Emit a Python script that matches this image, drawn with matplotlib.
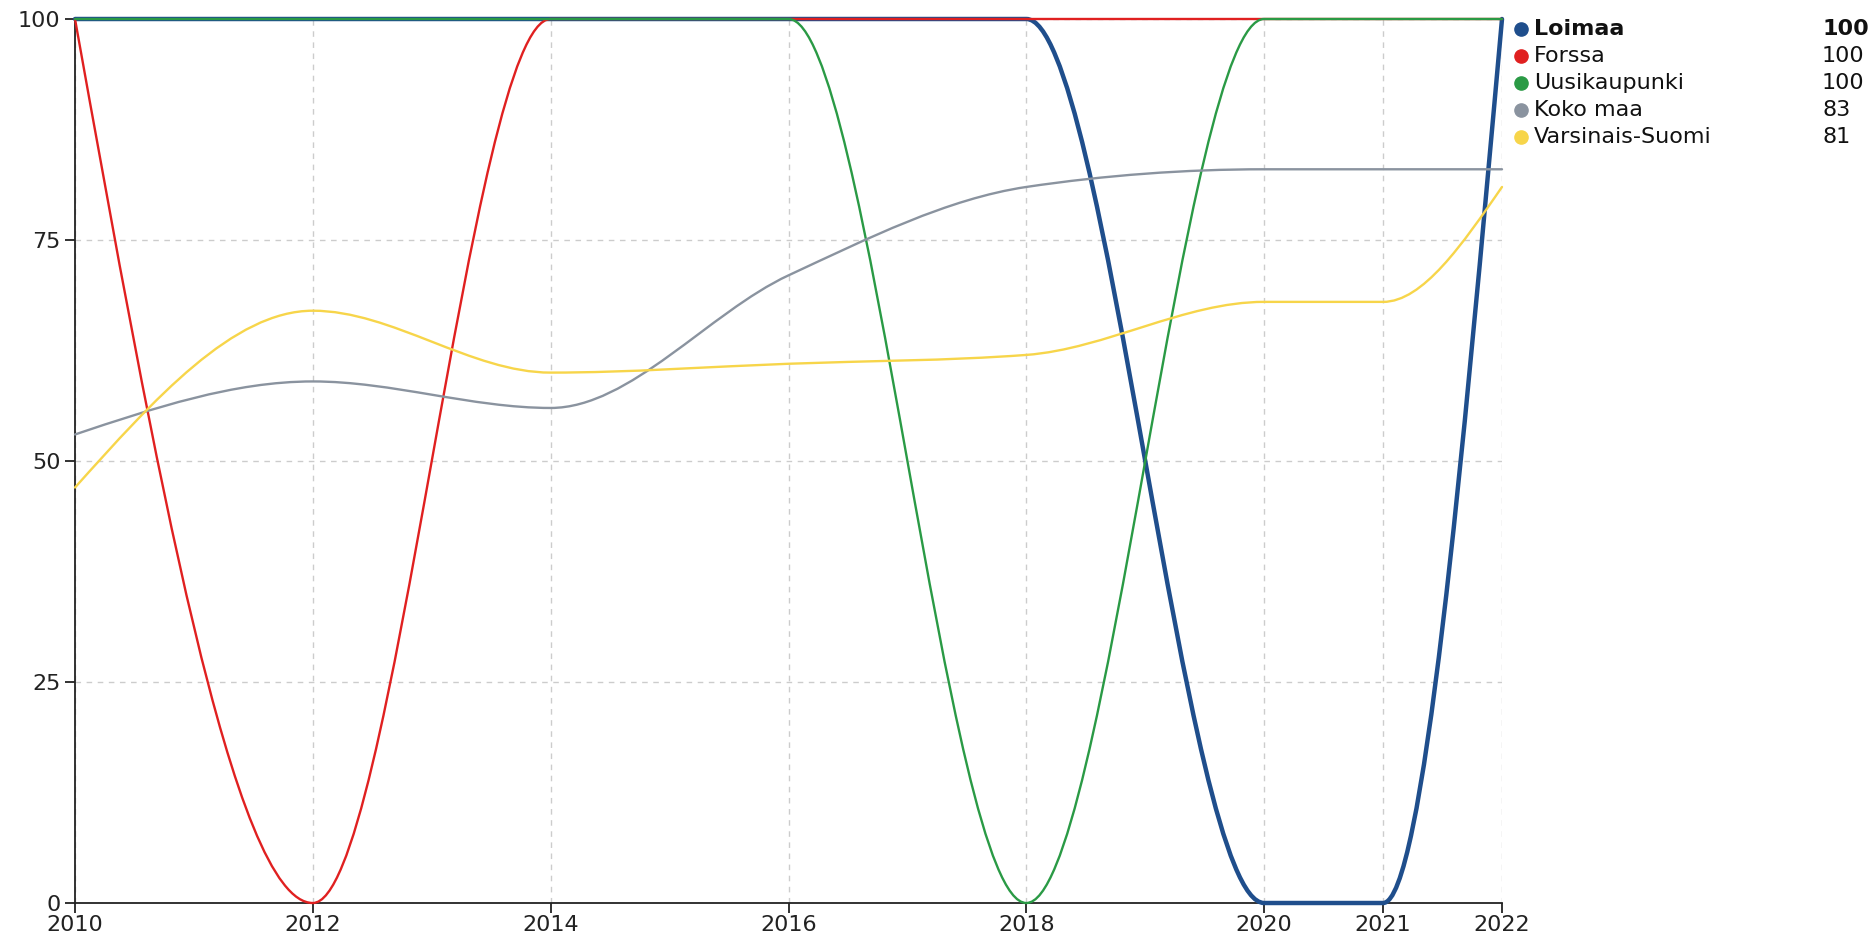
import numpy as np
import matplotlib
matplotlib.use("Agg")
import matplotlib.pyplot as plt
from matplotlib.path import Path
from matplotlib.patches import PathPatch

plt.rcParams['font.family'] = ['DejaVu Sans']

years = [2010, 2012, 2014, 2016, 2018, 2020, 2021, 2022]
series_names = ["Loimaa", "Forssa", "Uusikaupunki", "Koko maa", "Varsinais-Suomi"]
loimaa = [100, 100, 100, 100, 100, 0, 0, 100]
forssa = [100, 0, 100, 100, 100, 100, 100, 100]
uusikaupunki = [100, 100, 100, 100, 0, 100, 100, 100]
koko_maa = [53, 59, 56, 71, 81, 83, 83, 83]
varsinais_suomi = [47, 67, 60, 61, 62, 68, 68, 81]
series_values = [loimaa, forssa, uusikaupunki, koko_maa, varsinais_suomi]
colors = ["#1f4e8c", "#e02020", "#2a9a45", "#8a939f", "#f7d54a"]
widths = [3.2, 1.7, 1.7, 1.7, 1.7]
y_ticks = [0, 25, 50, 75, 100]


def monotone_path(xs, ys):
    """d3 curveMonotoneX as cubic Bezier path (rendering of the data points)."""
    x = np.asarray(xs, float)
    y = np.asarray(ys, float)
    n = len(x)
    h = np.diff(x)
    s = np.diff(y) / h
    t = np.zeros(n)
    for i in range(1, n - 1):
        h0, h1 = h[i - 1], h[i]
        s0, s1 = s[i - 1], s[i]
        p = (s0 * h1 + s1 * h0) / (h0 + h1)
        t[i] = (np.sign(s0) + np.sign(s1)) * min(abs(s0), abs(s1), 0.5 * abs(p))
    t[0] = (3 * s[0] - t[1]) / 2
    t[-1] = (3 * s[-1] - t[-2]) / 2
    verts = [(x[0], y[0])]
    codes = [Path.MOVETO]
    for i in range(n - 1):
        dx = (x[i + 1] - x[i]) / 3
        verts += [(x[i] + dx, y[i] + dx * t[i]),
                  (x[i + 1] - dx, y[i + 1] - dx * t[i + 1]),
                  (x[i + 1], y[i + 1])]
        codes += [Path.CURVE4] * 3
    return Path(verts, codes)


W, H = 1876, 940
fig = plt.figure(figsize=(W / 100, H / 100), dpi=100)
ax = fig.add_axes([75 / W, 1 - 903 / H, (1502 - 75) / W, (903 - 19) / H])

ax.set_xlim(2010, 2022)
ax.set_ylim(0, 100)
ax.set_xticks(years)
ax.set_xticklabels([str(y) for y in years])
ax.set_yticks(y_ticks)
ax.set_yticklabels([str(v) for v in y_ticks])
ax.grid(True, color="#cccccc", linestyle=(0, (4, 4)), linewidth=1.0)
ax.set_axisbelow(True)
for sp in ["top", "right"]:
    ax.spines[sp].set_visible(False)
for sp in ["left", "bottom"]:
    ax.spines[sp].set_color("#222222")
    ax.spines[sp].set_linewidth(1.3)
ax.tick_params(axis="both", length=7.5, width=1.3, color="#222222",
               labelsize=16, labelcolor="#222222")
ax.tick_params(axis="x", pad=1)
ax.tick_params(axis="y", pad=3)

for i, (vals, c, lw) in enumerate(zip(series_values, colors, widths)):
    patch = PathPatch(monotone_path(years, vals), facecolor="none", edgecolor=c,
                      linewidth=lw, capstyle="round", joinstyle="round",
                      zorder=3 + i, clip_on=False)
    ax.add_patch(patch)

# legend
leg_y = [29, 56, 83, 110, 137]
for i, (name, vals, c) in enumerate(zip(series_names, series_values, colors)):
    yf = 1 - leg_y[i] / H
    weight = "bold" if i == 0 else "normal"
    fig.lines.append(plt.Line2D([1521 / W], [yf], marker="o", markersize=9.5,
                                color=c, linestyle="none",
                                transform=fig.transFigure))
    fig.text(1534 / W, yf, name, fontsize=16, fontweight=weight,
             color="#111111", va="center", ha="left")
    fig.text(1822 / W, yf, str(vals[-1]), fontsize=16, fontweight=weight,
             color="#111111", va="center", ha="left")

fig.savefig("out.png", dpi=100)
